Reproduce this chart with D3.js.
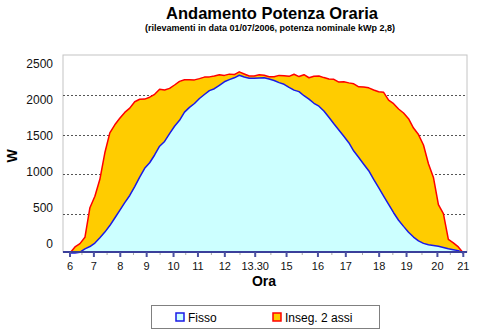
<!DOCTYPE html>
<html>
<head>
<meta charset="utf-8">
<script src="https://cdn.jsdelivr.net/npm/d3@7"></script>
<style>
  html, body { margin: 0; padding: 0; background: #fff; }
  svg { display: block; font-family: "Liberation Sans", Arial, sans-serif; }
</style>
</head>
<body>
<svg id="chart" width="480" height="333"></svg>
<script>
// ---- data ----
const title = "Andamento Potenza Oraria";
const subtitle = "(rilevamenti in data 01/07/2006, potenza nominale kWp 2,8)";
const xTitle = "Ora";
const yTitle = "W";
const seriesNames = ["Fisso", "Inseg. 2 assi"];
// sample positions of the hour labels (in sample index units)
const tickIndex = [0, 4.8, 10.1, 15.4, 20.8, 25.7, 31.1, 37.2, 43.5, 49.8, 55.4, 62.1, 67.6, 73.8, 79];
const tickLabels = ["6", "7", "8", "9", "10", "11", "12", "13.30", "15", "16", "17", "18", "19", "20", "21"];
const yTicks = [0, 500, 1000, 1500, 2000, 2500];
const gridValues = [500, 1000, 1500, 2000];
// Inseg. 2 assi (W)
const inseguitore = [0,77,119,199,575,721,935,1272,1525,1627,
  1709,1784,1838,1920,1951,1953,1977,2014,2077,2069,
  2089,2132,2178,2198,2200,2197,2213,2232,2235,2247,
  2263,2254,2270,2264,2299,2272,2246,2246,2261,2255,
  2237,2237,2254,2249,2242,2269,2239,2263,2224,2244,
  2247,2226,2208,2204,2169,2173,2159,2147,2109,2107,
  2096,2069,2047,2039,1939,1895,1827,1777,1704,1586,
  1503,1371,1133,959,613,500,173,129,77,0];
// Fisso (W)
const fisso = [0,0,10,53,82,126,193,265,348,444,
  542,640,730,843,964,1075,1145,1244,1355,1416,
  1515,1608,1684,1788,1848,1897,1961,2011,2060,2085,
  2128,2173,2200,2223,2256,2234,2218,2217,2220,2223,
  2207,2189,2162,2141,2103,2067,2048,1996,1952,1900,
  1863,1803,1723,1640,1562,1481,1400,1294,1211,1127,
  1044,933,829,723,618,511,416,338,264,202,
  154,122,104,94,85,71,53,42,30,0];

// ---- layout ----
const svg = d3.select("#chart");
const plot = { left: 63, right: 467, top: 55, bottom: 252 };

const x = d3.scaleLinear().domain([0, fisso.length - 1]).range([70, 463.3]);
const y = d3.scaleLinear().domain([0, 2500]).range([253, 56]);
const yLab = d3.scaleLinear().domain([0, 2500]).range([243.5, 64]);

svg.append("rect").attr("width", 480).attr("height", 333).attr("fill", "#fff");

// title
svg.append("text").attr("x", 272).attr("y", 19).attr("text-anchor", "middle")
  .attr("font-size", 16.5).attr("font-weight", "bold").text(title);
svg.append("text").attr("x", 270).attr("y", 31).attr("text-anchor", "middle")
  .attr("font-size", 9).attr("font-weight", "bold").text(subtitle);

// plot frame
svg.append("rect").attr("x", plot.left).attr("y", plot.top)
  .attr("width", plot.right - plot.left).attr("height", plot.bottom - plot.top)
  .attr("fill", "#fff").attr("stroke", "#c4c4c4").attr("stroke-width", 1);

// gridlines
svg.append("g").selectAll("line").data(gridValues).join("line")
  .attr("x1", plot.left).attr("x2", plot.right)
  .attr("y1", d => Math.round(y(d)) + 0.5).attr("y2", d => Math.round(y(d)) + 0.5)
  .attr("stroke", "#555").attr("stroke-dasharray", "2,2").attr("stroke-width", 1);

// areas
const areaGen = arr => d3.area().x((d, i) => x(i)).y0(y(0)).y1(d => y(d))(arr);
const lineGen = arr => d3.line().x((d, i) => x(i)).y(d => y(d))(arr);

svg.append("path").attr("d", areaGen(inseguitore)).attr("fill", "#ffcc00");
svg.append("path").attr("d", areaGen(fisso)).attr("fill", "#ccffff");
svg.append("path").attr("d", lineGen(inseguitore)).attr("fill", "none")
  .attr("stroke", "#ff0000").attr("stroke-width", 1.5).attr("stroke-linejoin", "round");
svg.append("path").attr("d", lineGen(fisso)).attr("fill", "none")
  .attr("stroke", "#1a1ae6").attr("stroke-width", 1.5).attr("stroke-linejoin", "round");

// x axis line
svg.append("line").attr("x1", plot.left).attr("x2", plot.right)
  .attr("y1", plot.bottom).attr("y2", plot.bottom)
  .attr("stroke", "#3a3f9a").attr("stroke-width", 2);

// minor ticks
const minor = tickIndex.slice(0, -1).map((t, i) => (t + tickIndex[i + 1]) / 2);
svg.append("g").selectAll("line").data(minor).join("line")
  .attr("x1", d => x(d)).attr("x2", d => x(d))
  .attr("y1", plot.bottom + 1).attr("y2", plot.bottom + 3)
  .attr("stroke", "#aaa").attr("stroke-width", 1);

// major ticks + labels
const xAxis = svg.append("g");
xAxis.selectAll("line").data(tickIndex).join("line")
  .attr("x1", d => x(d)).attr("x2", d => x(d))
  .attr("y1", plot.bottom).attr("y2", plot.bottom + 5)
  .attr("stroke", "#4a50a0").attr("stroke-width", 2);
xAxis.selectAll("text").data(tickIndex).join("text")
  .attr("x", d => x(d)).attr("y", 270).attr("text-anchor", "middle")
  .attr("font-size", 11).attr("fill", "#111")
  .text((d, i) => tickLabels[i]);

// y labels
svg.append("g").selectAll("text").data(yTicks).join("text")
  .attr("x", 53).attr("y", d => yLab(d)).attr("dy", "0.35em")
  .attr("text-anchor", "end").attr("font-size", 12).attr("fill", "#111")
  .text(d => d);

// axis titles
svg.append("text").attr("x", 264).attr("y", 286).attr("text-anchor", "middle")
  .attr("font-size", 14).attr("font-weight", "bold").text(xTitle);
svg.append("text").attr("transform", "translate(17,156) rotate(-90)")
  .attr("text-anchor", "middle").attr("font-size", 14).attr("font-weight", "bold").text(yTitle);

// legend
const lg = svg.append("g");
lg.append("rect").attr("x", 151.5).attr("y", 305.5).attr("width", 228).attr("height", 23)
  .attr("fill", "#fff").attr("stroke", "#808080").attr("stroke-width", 1);
const legendItems = [
  { name: seriesNames[0], fill: "#ccffff", stroke: "#1a1ae6", x: 176 },
  { name: seriesNames[1], fill: "#ffcc00", stroke: "#ff0000", x: 273 }
];
legendItems.forEach(it => {
  lg.append("rect").attr("x", it.x).attr("y", 313).attr("width", 8).attr("height", 8)
    .attr("fill", it.fill).attr("stroke", it.stroke).attr("stroke-width", 1.5);
  lg.append("text").attr("x", it.x + 12).attr("y", 321.5).attr("font-size", 12).text(it.name);
});
</script>
</body>
</html>
